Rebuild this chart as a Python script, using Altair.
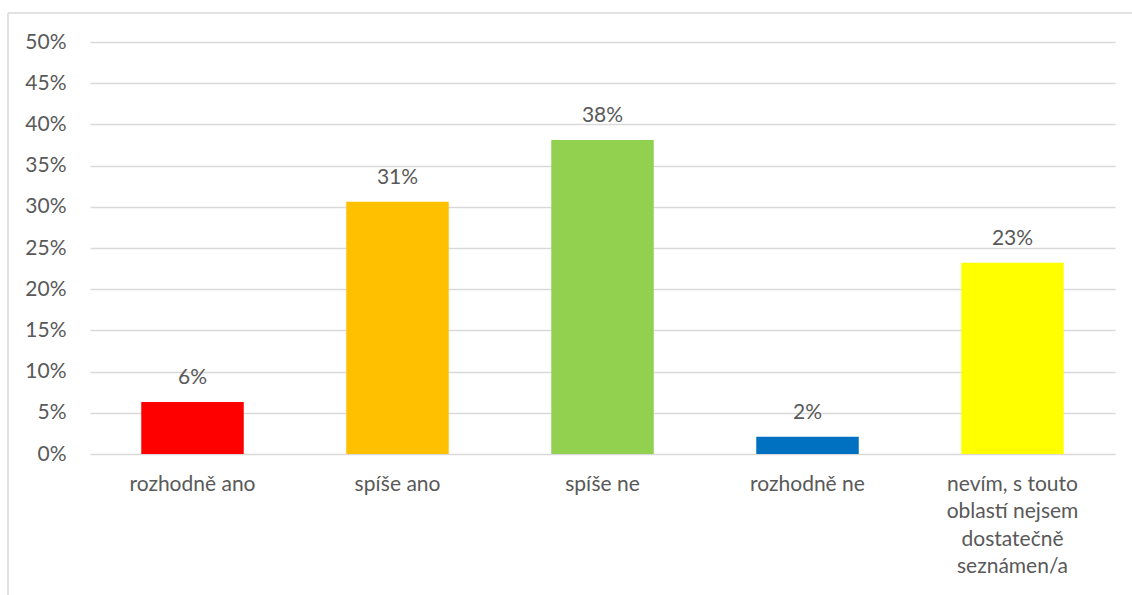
import altair as alt
import pandas as pd

categories = ["rozhodně ano", "spíše ano", "spíše ne", "rozhodně ne",
              "nevím, s touto|oblastí nejsem|dostatečně|seznámen/a"]
values = [0.063, 0.306, 0.381, 0.021, 0.232]
colors = ["#FF0000", "#FFC000", "#92D050", "#0070C0", "#FFFF00"]
y_ticks = [0, 0.05, 0.10, 0.15, 0.20, 0.25, 0.30, 0.35, 0.40, 0.45, 0.50]

df = pd.DataFrame({"cat": categories, "val": values, "color": colors})

FONT = "Lato"
FS = 21
TXT = "#595959"
W, H = 1025, 412

x_enc = alt.X("cat:N", sort=categories,
              scale=alt.Scale(paddingInner=0.5, paddingOuter=0.25),
              axis=alt.Axis(title=None, labelAngle=0, domain=False, ticks=False,
                            grid=False,
                            labelExpr="split(datum.label, '|')",
                            labelFont=FONT, labelFontSize=FS, labelColor=TXT,
                            labelLineHeight=27.5, labelPadding=19,
                            labelBaseline="top"))
y_enc = alt.Y("val:Q", scale=alt.Scale(domain=[0, 0.5], nice=False),
              axis=alt.Axis(title=None, values=y_ticks, format=".0%",
                            domain=False, ticks=False, grid=True,
                            gridColor="#D9D9D9", gridWidth=1.4,
                            labelFont=FONT, labelFontSize=FS, labelColor=TXT,
                            labelPadding=24))

bars = alt.Chart(df).mark_bar().encode(
    x=x_enc, y=y_enc,
    color=alt.Color("color:N", scale=None),
)

labels = alt.Chart(df).mark_text(font=FONT, fontSize=FS, color=TXT,
                                 baseline="bottom", dy=-14).encode(
    x=alt.X("cat:N", sort=categories),
    y="val:Q",
    text=alt.Text("val:Q", format=".0%"),
)

border_left = alt.Chart(pd.DataFrame({"a": [0]})).mark_rule(
    color="#D9D9D9", strokeWidth=1.5).encode(
    x=alt.value(-82), y=alt.value(-29), y2=alt.value(H + 200))
border_top = alt.Chart(pd.DataFrame({"a": [0]})).mark_rule(
    color="#D9D9D9", strokeWidth=1.5).encode(
    x=alt.value(-82), x2=alt.value(W + 100), y=alt.value(-29))

chart = alt.layer(border_left, border_top, bars, labels).properties(
    width=W, height=H,
    background="white",
    autosize=alt.AutoSizeParams(type="none"),
    padding={"left": 90, "top": 42, "right": 17, "bottom": 141},
).configure_view(strokeWidth=0, stroke="transparent")

chart.save("out.html", embed_options={"renderer": "svg", "actions": False})
